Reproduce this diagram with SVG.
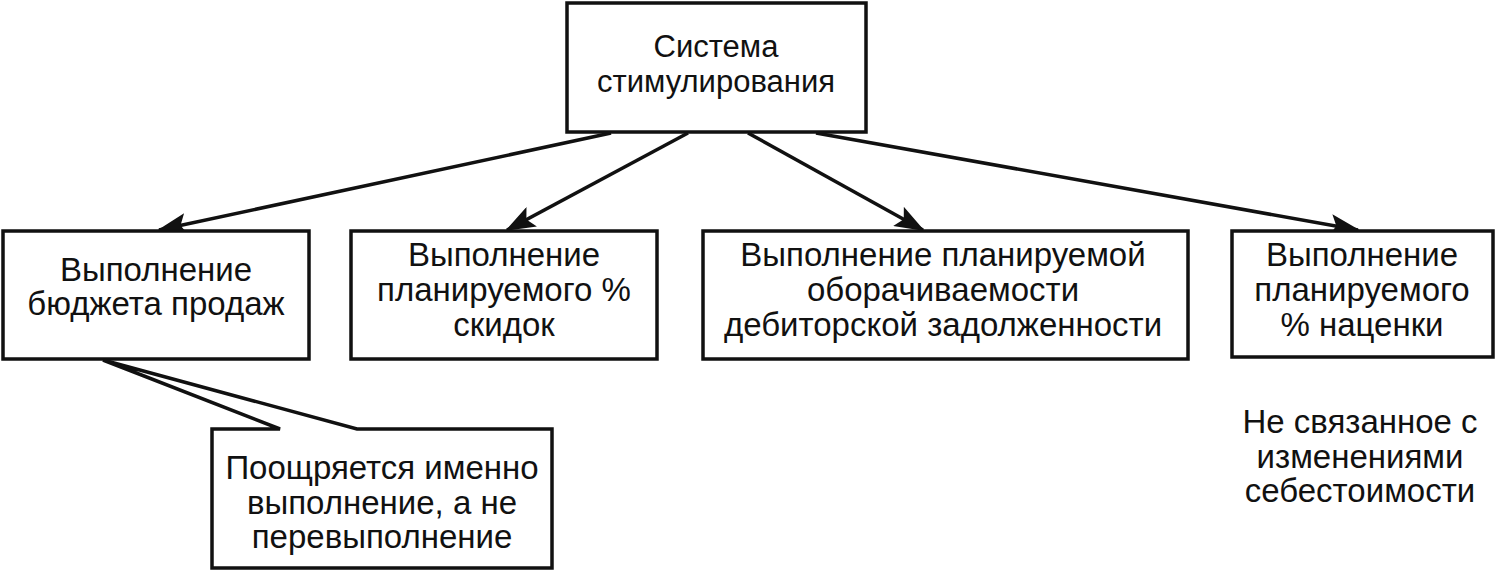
<svg xmlns="http://www.w3.org/2000/svg" width="1497" height="578" viewBox="0 0 1497 578">
<style>
.box{fill:#fff;stroke:#111;stroke-width:3.5}
.t{font-family:"Liberation Sans",Arial,sans-serif;font-size:33px;fill:#111;text-anchor:middle}
.c{stroke:#111;stroke-width:3.5;fill:none}
</style>
<defs>
<marker id="a" markerWidth="30" markerHeight="22" refX="28" refY="11" orient="auto" markerUnits="userSpaceOnUse">
<path d="M0,0 L30,11 L0,22 L6,11 Z" fill="#111"/>
</marker>
</defs>
<rect width="1497" height="578" fill="#fff"/>
<g id="connectors">
<line class="c" x1="611" y1="133" x2="159" y2="230" marker-end="url(#a)"/>
<line class="c" x1="688" y1="133" x2="507" y2="230" marker-end="url(#a)"/>
<line class="c" x1="748" y1="133" x2="923" y2="230" marker-end="url(#a)"/>
<line class="c" x1="816" y1="133" x2="1358" y2="230" marker-end="url(#a)"/>
</g>
<g id="top">
<rect class="box" x="567" y="3" width="299" height="129"/>
<text class="t" x="716" y="57" style="font-size:31px">Система</text>
<text class="t" x="716" y="92" style="font-size:31px">стимулирования</text>
</g>
<g id="n1">
<rect class="box" x="3" y="231" width="306" height="128"/>
<text class="t" x="156" y="281">Выполнение</text>
<text class="t" x="156" y="315">бюджета продаж</text>
</g>
<g id="n2">
<rect class="box" x="351" y="231" width="306" height="128"/>
<text class="t" x="504" y="266">Выполнение</text>
<text class="t" x="504" y="301">планируемого %</text>
<text class="t" x="504" y="336">скидок</text>
</g>
<g id="n3">
<rect class="box" x="703" y="231" width="485" height="128"/>
<text class="t" x="943" y="266">Выполнение планируемой</text>
<text class="t" x="943" y="301">оборачиваемости</text>
<text class="t" x="943" y="336">дебиторской задолженности</text>
</g>
<g id="n4">
<rect class="box" x="1232" y="231" width="261" height="126"/>
<text class="t" x="1362" y="266">Выполнение</text>
<text class="t" x="1362" y="301">планируемого</text>
<text class="t" x="1362" y="336">% наценки</text>
</g>
<g id="callout">
<path class="box" stroke-linejoin="miter" d="M357,429 H552 V568 H212 V429 H280 L103,360 Z"/>
<text class="t" x="382" y="479">Поощряется именно</text>
<text class="t" x="382" y="514">выполнение, а не</text>
<text class="t" x="382" y="548">перевыполнение</text>
</g>
<g id="note">
<text class="t" x="1360" y="433">Не связанное с</text>
<text class="t" x="1360" y="468">изменениями</text>
<text class="t" x="1360" y="502">себестоимости</text>
</g>
</svg>
